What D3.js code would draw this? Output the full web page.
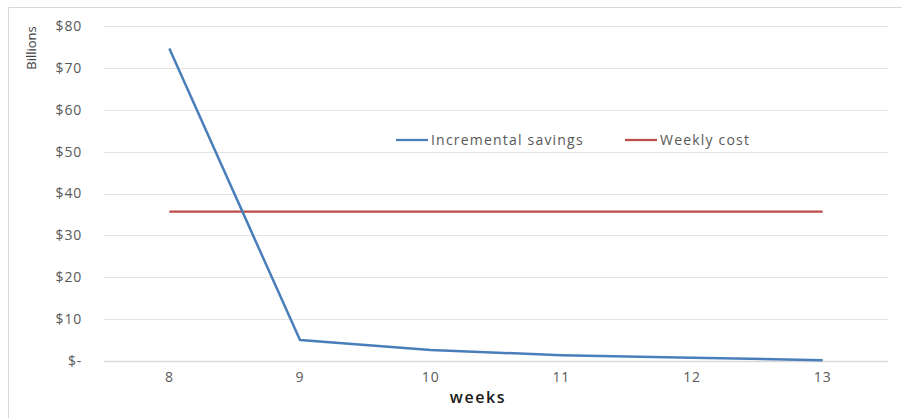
<!DOCTYPE html>
<html>
<head>
<meta charset="utf-8">
<script src="https://cdn.jsdelivr.net/npm/d3@7/dist/d3.min.js"></script>
<style>
  html, body { margin: 0; padding: 0; background: #fff; }
  svg { display: block; }
  text { font-family: "Open Sans", "Noto Sans", sans-serif; }
</style>
</head>
<body>
<svg id="chart" width="902" height="418"></svg>
<script>
// Weeks on the x axis
const weeks = [8, 9, 10, 11, 12, 13];
// Incremental savings per week, in billions of dollars
const incrementalSavings = [74.6, 5.0, 2.6, 1.4, 0.8, 0.2];
// Flat weekly cost, in billions of dollars
const weeklyCost = [35.7, 35.7, 35.7, 35.7, 35.7, 35.7];
// Y axis ticks
const yTicks = [0, 10, 20, 30, 40, 50, 60, 70, 80];
const seriesNames = ["Incremental savings", "Weekly cost"];
const seriesColors = ["#4a7ebb", "#be4b48"];

const svg = d3.select("#chart");
const margin = { left: 104, right: 14, top: 26, bottom: 57 };
const W = 902, H = 418;

// Chart frame (top and left edges visible)
svg.append("path")
  .attr("d", `M8.5,418 L8.5,7.5 L902,7.5`)
  .attr("fill", "none")
  .attr("stroke", "#d9d9d9")
  .attr("stroke-width", 1);

const x = d3.scaleBand()
  .domain(weeks)
  .range([margin.left, W - margin.right])
  .paddingInner(0).paddingOuter(0);

const y = d3.scaleLinear()
  .domain([0, 80])
  .range([H - margin.bottom, margin.top]);

const cx = d => x(d) + x.bandwidth() / 2;

// Gridlines
svg.append("g")
  .selectAll("line")
  .data(yTicks)
  .join("line")
  .attr("x1", margin.left)
  .attr("x2", W - margin.right)
  .attr("y1", d => Math.round(y(d)) + 0.5)
  .attr("y2", d => Math.round(y(d)) + 0.5)
  .attr("stroke", d => d === 0 ? "#d9d9d9" : "#e3e3e3")
  .attr("stroke-width", d => d === 0 ? 1.5 : 1);

// Y axis labels
const yAxis = d3.axisLeft(y)
  .tickValues(yTicks)
  .tickSize(0)
  .tickPadding(0)
  .tickFormat(d => d === 0 ? "$-" : "$" + d);
const gy = svg.append("g")
  .attr("transform", `translate(${margin.left - 22},0)`)
  .call(yAxis);
gy.select(".domain").remove();
gy.selectAll("text")
  .attr("fill", "#595959")
  .attr("font-size", "14px")
  .attr("letter-spacing", "0.8px")
  .attr("font-family", "'Open Sans', sans-serif");

// X axis labels
const xAxis = d3.axisBottom(x).tickSize(0).tickPadding(0);
const gx = svg.append("g")
  .attr("transform", `translate(0,${y(0) + 11})`)
  .call(xAxis);
gx.select(".domain").remove();
gx.selectAll("text")
  .attr("fill", "#595959")
  .attr("font-size", "14px")
  .attr("letter-spacing", "0.8px")
  .attr("font-family", "'Open Sans', sans-serif");

// Axis titles
svg.append("text")
  .attr("transform", `translate(36,48) rotate(-90)`)
  .attr("text-anchor", "middle")
  .attr("fill", "#404040")
  .attr("font-size", "13px")
  .attr("font-family", "'Liberation Sans Narrow', 'Roboto Condensed', 'Open Sans', sans-serif")
  .text("Billions");

svg.append("text")
  .attr("x", 478)
  .attr("y", 403)
  .attr("text-anchor", "middle")
  .attr("fill", "#1a1a1a")
  .attr("font-size", "16px")
  .attr("font-weight", "600")
  .attr("letter-spacing", "1.6px")
  .text("weeks");

// Lines
const line = d3.line()
  .x((d, i) => cx(weeks[i]))
  .y(d => y(d));

svg.append("path")
  .datum(weeklyCost)
  .attr("d", line)
  .attr("fill", "none")
  .attr("stroke", seriesColors[1])
  .attr("stroke-width", 2.25);

svg.append("path")
  .datum(incrementalSavings)
  .attr("d", line)
  .attr("fill", "none")
  .attr("stroke", seriesColors[0])
  .attr("stroke-width", 2.5)
  .attr("stroke-linejoin", "round");

// Legend
const legendX = [396, 625];
const legendY = 140;
const lg = svg.append("g");
seriesNames.forEach((name, i) => {
  lg.append("line")
    .attr("x1", legendX[i]).attr("x2", legendX[i] + 32)
    .attr("y1", legendY).attr("y2", legendY)
    .attr("stroke", seriesColors[i])
    .attr("stroke-width", 2.25);
  lg.append("text")
    .attr("x", legendX[i] + 35)
    .attr("y", legendY + 5)
    .attr("fill", "#595959")
    .attr("font-size", "14px")
    .attr("letter-spacing", "1.2px")
    .text(name);
});
</script>
</body>
</html>
